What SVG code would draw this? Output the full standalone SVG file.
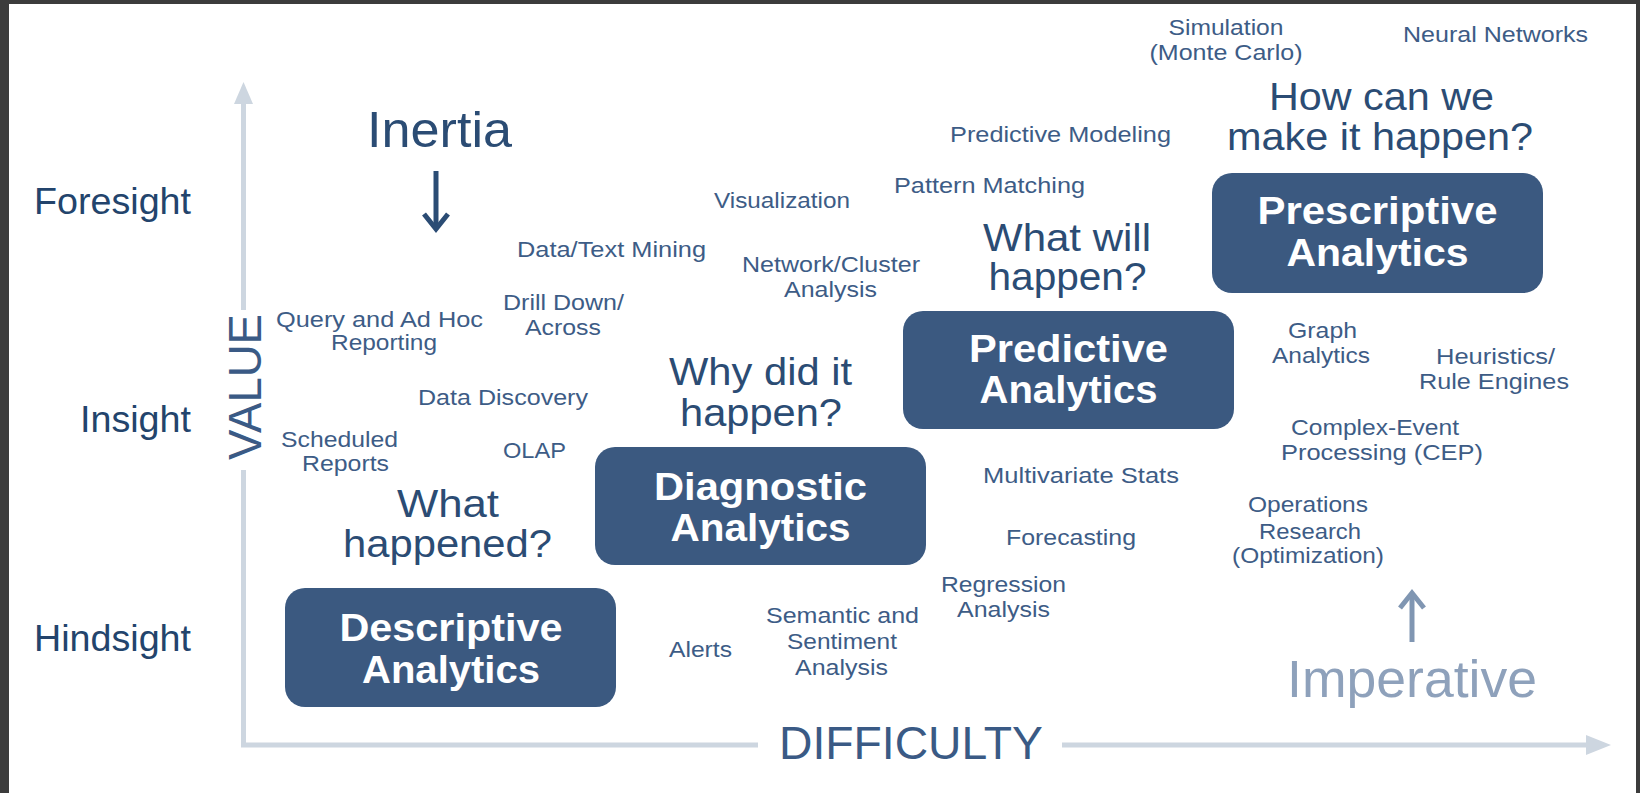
<svg xmlns="http://www.w3.org/2000/svg" width="1640" height="793" viewBox="0 0 1640 793">
  <style>
    text { font-family: "Liberation Sans", Arial, sans-serif; }
    .lbl { font-size: 22px; fill: #3d5c86; text-anchor: middle; }
    .q { font-size: 38px; fill: #2b4c74; text-anchor: middle; }
    .box { fill: #3b5980; }
    .bt { font-size: 39px; font-weight: bold; fill: #ffffff; text-anchor: middle; }
    .lvl { font-size: 36px; fill: #23446c; text-anchor: end; }
    .axis { stroke: #cdd6e0; stroke-width: 5; fill: none; }
    .axhead { fill: #cdd6e0; }
    .axlbl { font-size: 46px; fill: #3a5a85; text-anchor: middle; }
  </style>

  <!-- frame -->
  <rect x="0" y="0" width="1640" height="793" fill="#ffffff"/>
  <rect x="0" y="0" width="9" height="793" fill="#3c3c3c"/>
  <rect x="0" y="0" width="1640" height="4" fill="#3c3c3c"/>
  <rect x="1636" y="0" width="4" height="793" fill="#3c3c3c"/>

  <!-- axes and direction arrows -->
  <g id="connectors">
    <path class="axis" d="M243.5,100 V310 M243.5,470 V745 H758 M1062,745 H1588"/>
    <polygon class="axhead" points="243.5,82 253,104 234,104"/>
    <polygon class="axhead" points="1611,745 1586,735 1586,755"/>
    <text class="axlbl" x="911" y="759" textLength="264" lengthAdjust="spacingAndGlyphs">DIFFICULTY</text>
    <text class="axlbl" transform="translate(261,387) rotate(-90)" textLength="146" lengthAdjust="spacingAndGlyphs" font-size="50">VALUE</text>

    <!-- Inertia arrow -->
    <path d="M436,171 V226" stroke="#2b4c74" stroke-width="5" fill="none"/>
    <path d="M424,214 L436,229 L448,214" stroke="#2b4c74" stroke-width="5" fill="none"/>
    <!-- Imperative arrow -->
    <path d="M1412,595 V642" stroke="#8096b2" stroke-width="5" fill="none"/>
    <path d="M1400,608 L1412,593 L1424,608" stroke="#8096b2" stroke-width="5" fill="none"/>
  </g>

  <!-- value levels -->
  <g id="levels">
    <text class="lvl" x="191" y="214" textLength="157" lengthAdjust="spacingAndGlyphs">Foresight</text>
    <text class="lvl" x="191" y="432" textLength="111" lengthAdjust="spacingAndGlyphs">Insight</text>
    <text class="lvl" x="191" y="651" textLength="157" lengthAdjust="spacingAndGlyphs">Hindsight</text>
  </g>

  <g id="inertia">
    <text x="439.5" y="147" font-size="50" fill="#2b4c74" text-anchor="middle" textLength="145" lengthAdjust="spacingAndGlyphs">Inertia</text>
  </g>
  <g id="imperative">
    <text x="1412" y="697" font-size="51" fill="#8ea1bb" text-anchor="middle" textLength="250" lengthAdjust="spacingAndGlyphs">Imperative</text>
  </g>

  <!-- analytics stages -->
  <g id="descriptive">
    <rect class="box" x="285" y="588" width="331" height="119" rx="20"/>
    <text class="bt" x="451" y="641" textLength="223" lengthAdjust="spacingAndGlyphs">Descriptive</text>
    <text class="bt" x="451" y="683" textLength="178" lengthAdjust="spacingAndGlyphs">Analytics</text>
  </g>
  <g id="diagnostic">
    <rect class="box" x="595" y="447" width="331" height="118" rx="20"/>
    <text class="bt" x="760.5" y="500" textLength="213" lengthAdjust="spacingAndGlyphs">Diagnostic</text>
    <text class="bt" x="760.5" y="541" textLength="180" lengthAdjust="spacingAndGlyphs">Analytics</text>
  </g>
  <g id="predictive">
    <rect class="box" x="903" y="311" width="331" height="118" rx="20"/>
    <text class="bt" x="1068.5" y="362" textLength="199" lengthAdjust="spacingAndGlyphs">Predictive</text>
    <text class="bt" x="1068.5" y="403" textLength="178" lengthAdjust="spacingAndGlyphs">Analytics</text>
  </g>
  <g id="prescriptive">
    <rect class="box" x="1212" y="173" width="331" height="120" rx="20"/>
    <text class="bt" x="1377.5" y="224" textLength="240" lengthAdjust="spacingAndGlyphs">Prescriptive</text>
    <text class="bt" x="1377.5" y="266" textLength="182" lengthAdjust="spacingAndGlyphs">Analytics</text>
  </g>

  <!-- questions -->
  <g id="q-what-happened">
    <text class="q" x="448" y="517" textLength="102" lengthAdjust="spacingAndGlyphs">What</text>
    <text class="q" x="447.5" y="557" textLength="209" lengthAdjust="spacingAndGlyphs">happened?</text>
  </g>
  <g id="q-why">
    <text class="q" x="760.5" y="385" textLength="183" lengthAdjust="spacingAndGlyphs">Why did it</text>
    <text class="q" x="761" y="426" textLength="162" lengthAdjust="spacingAndGlyphs">happen?</text>
  </g>
  <g id="q-what-will">
    <text class="q" x="1067" y="251" textLength="168" lengthAdjust="spacingAndGlyphs">What will</text>
    <text class="q" x="1067.5" y="290" textLength="158" lengthAdjust="spacingAndGlyphs">happen?</text>
  </g>
  <g id="q-how">
    <text class="q" x="1381.5" y="110" textLength="225" lengthAdjust="spacingAndGlyphs">How can we</text>
    <text class="q" x="1380" y="150" textLength="306" lengthAdjust="spacingAndGlyphs">make it happen?</text>
  </g>

  <!-- techniques -->
  <g id="simulation">
    <text class="lbl" x="1226" y="35" textLength="115" lengthAdjust="spacingAndGlyphs">Simulation</text>
    <text class="lbl" x="1226" y="60" textLength="153" lengthAdjust="spacingAndGlyphs">(Monte Carlo)</text>
  </g>
  <g id="neural-networks"><text class="lbl" x="1495.5" y="42" textLength="185" lengthAdjust="spacingAndGlyphs">Neural Networks</text></g>
  <g id="predictive-modeling"><text class="lbl" x="1060.5" y="142" textLength="221" lengthAdjust="spacingAndGlyphs">Predictive Modeling</text></g>
  <g id="pattern-matching"><text class="lbl" x="989.5" y="193" textLength="191" lengthAdjust="spacingAndGlyphs">Pattern Matching</text></g>
  <g id="visualization"><text class="lbl" x="782" y="208" textLength="136" lengthAdjust="spacingAndGlyphs">Visualization</text></g>
  <g id="text-mining"><text class="lbl" x="611.5" y="257" textLength="189" lengthAdjust="spacingAndGlyphs">Data/Text Mining</text></g>
  <g id="network-cluster">
    <text class="lbl" x="831" y="272" textLength="178" lengthAdjust="spacingAndGlyphs">Network/Cluster</text>
    <text class="lbl" x="830.5" y="297" textLength="93" lengthAdjust="spacingAndGlyphs">Analysis</text>
  </g>
  <g id="drill-down">
    <text class="lbl" x="563.5" y="310" textLength="121" lengthAdjust="spacingAndGlyphs">Drill Down/</text>
    <text class="lbl" x="563" y="335" textLength="76" lengthAdjust="spacingAndGlyphs">Across</text>
  </g>
  <g id="query">
    <text class="lbl" x="379.5" y="327" textLength="207" lengthAdjust="spacingAndGlyphs">Query and Ad Hoc</text>
    <text class="lbl" x="384" y="350" textLength="106" lengthAdjust="spacingAndGlyphs">Reporting</text>
  </g>
  <g id="data-discovery"><text class="lbl" x="503" y="405" textLength="170" lengthAdjust="spacingAndGlyphs">Data Discovery</text></g>
  <g id="scheduled-reports">
    <text class="lbl" x="339.5" y="447" textLength="117" lengthAdjust="spacingAndGlyphs">Scheduled</text>
    <text class="lbl" x="345.5" y="471" textLength="87" lengthAdjust="spacingAndGlyphs">Reports</text>
  </g>
  <g id="olap"><text class="lbl" x="534.5" y="458" textLength="63" lengthAdjust="spacingAndGlyphs">OLAP</text></g>
  <g id="graph-analytics">
    <text class="lbl" x="1322.5" y="338" textLength="69" lengthAdjust="spacingAndGlyphs">Graph</text>
    <text class="lbl" x="1321" y="363" textLength="98" lengthAdjust="spacingAndGlyphs">Analytics</text>
  </g>
  <g id="heuristics">
    <text class="lbl" x="1495.5" y="364" textLength="119" lengthAdjust="spacingAndGlyphs">Heuristics/</text>
    <text class="lbl" x="1494" y="389" textLength="150" lengthAdjust="spacingAndGlyphs">Rule Engines</text>
  </g>
  <g id="cep">
    <text class="lbl" x="1375" y="435" textLength="168" lengthAdjust="spacingAndGlyphs">Complex-Event</text>
    <text class="lbl" x="1382" y="460" textLength="202" lengthAdjust="spacingAndGlyphs">Processing (CEP)</text>
  </g>
  <g id="multivariate"><text class="lbl" x="1081" y="483" textLength="196" lengthAdjust="spacingAndGlyphs">Multivariate Stats</text></g>
  <g id="forecasting"><text class="lbl" x="1071" y="545" textLength="130" lengthAdjust="spacingAndGlyphs">Forecasting</text></g>
  <g id="operations-research">
    <text class="lbl" x="1308" y="512" textLength="120" lengthAdjust="spacingAndGlyphs">Operations</text>
    <text class="lbl" x="1310" y="539" textLength="102" lengthAdjust="spacingAndGlyphs">Research</text>
    <text class="lbl" x="1308" y="563" textLength="152" lengthAdjust="spacingAndGlyphs">(Optimization)</text>
  </g>
  <g id="regression">
    <text class="lbl" x="1003.5" y="592" textLength="125" lengthAdjust="spacingAndGlyphs">Regression</text>
    <text class="lbl" x="1003.5" y="617" textLength="93" lengthAdjust="spacingAndGlyphs">Analysis</text>
  </g>
  <g id="semantic">
    <text class="lbl" x="842.5" y="623" textLength="153" lengthAdjust="spacingAndGlyphs">Semantic and</text>
    <text class="lbl" x="842" y="649" textLength="110" lengthAdjust="spacingAndGlyphs">Sentiment</text>
    <text class="lbl" x="841.5" y="675" textLength="93" lengthAdjust="spacingAndGlyphs">Analysis</text>
  </g>
  <g id="alerts"><text class="lbl" x="700.5" y="657" textLength="63" lengthAdjust="spacingAndGlyphs">Alerts</text></g>
</svg>
